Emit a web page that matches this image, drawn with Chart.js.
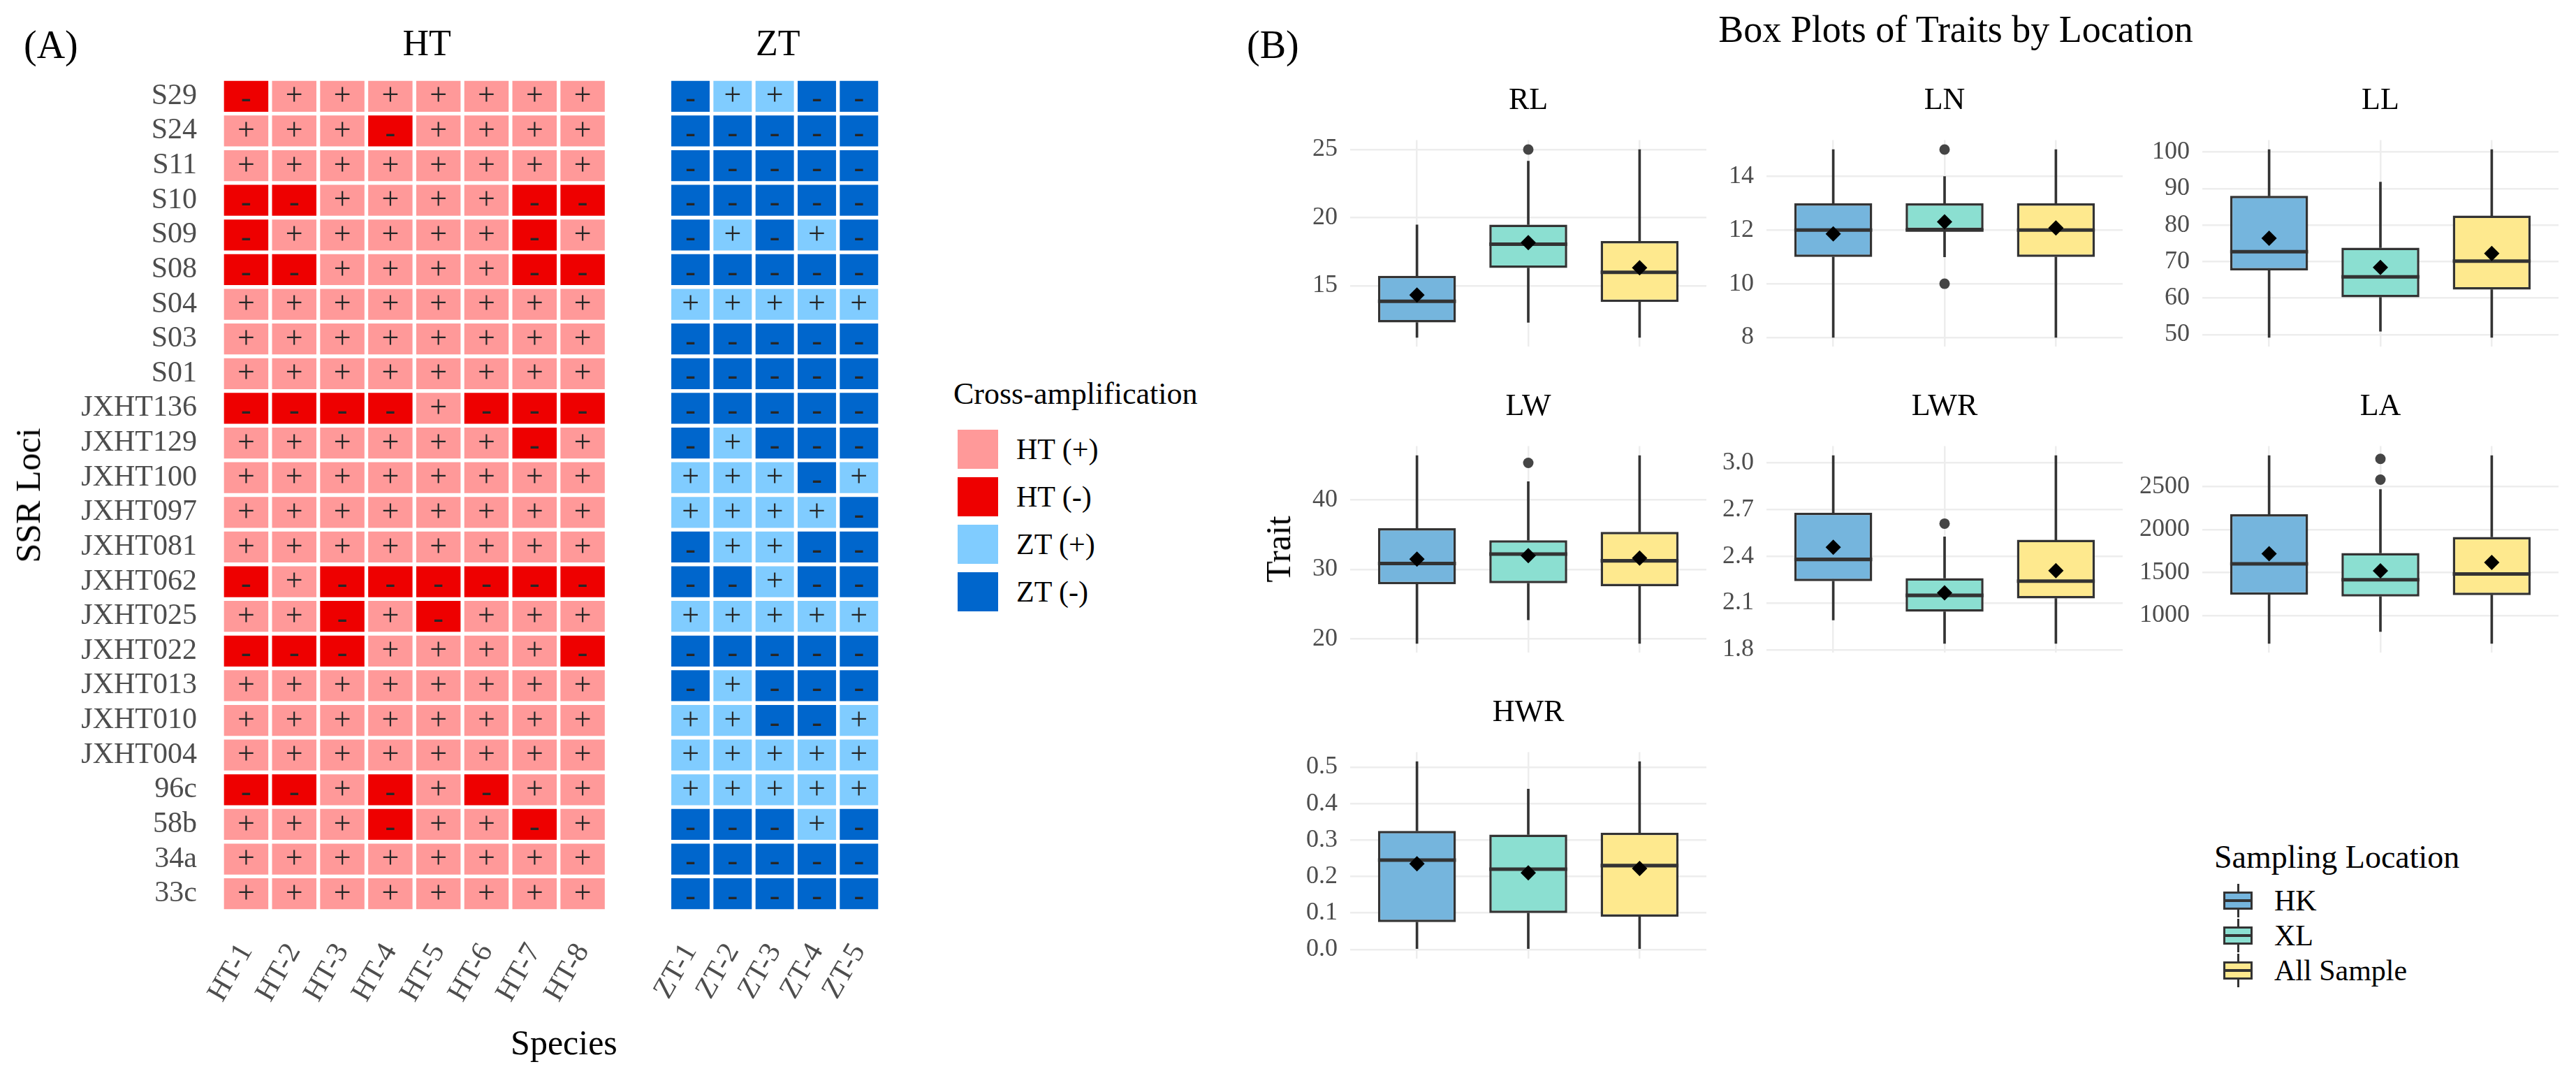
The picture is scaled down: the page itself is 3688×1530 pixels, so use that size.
<!DOCTYPE html>
<html><head><meta charset="utf-8">
<script src="https://cdn.jsdelivr.net/npm/chart.js@4.4.1/dist/chart.umd.min.js"></script>
<style>
html,body{margin:0;padding:0;background:#fff;}
#wrap{position:relative;width:3688px;height:1530px;overflow:hidden;font-family:"Liberation Serif","Times New Roman",serif;color:#000;background:#fff;}
.t{position:absolute;white-space:nowrap;line-height:1;}
canvas{position:absolute;}
.key{position:absolute;}
</style></head><body><div id="wrap"></div>
<script>
// ---------------- DATA ----------------
const loci = ['S29','S24','S11','S10','S09','S08','S04','S03','S01','JXHT136','JXHT129','JXHT100','JXHT097','JXHT081','JXHT062','JXHT025','JXHT022','JXHT013','JXHT010','JXHT004','96c','58b','34a','33c'];
const htSpecies = ['HT-1','HT-2','HT-3','HT-4','HT-5','HT-6','HT-7','HT-8'];
const ztSpecies = ['ZT-1','ZT-2','ZT-3','ZT-4','ZT-5'];
// one string per locus, one character per species (+ amplified, - not amplified)
const htCalls = ['-+++++++','+++-++++','++++++++','--++++--','-+++++-+','--++++--','++++++++','++++++++','++++++++','----+---','++++++-+','++++++++','++++++++','++++++++','-+------','++-+-+++','---++++-','++++++++','++++++++','++++++++','--+-+-++','+++-++-+','++++++++','++++++++'];
const ztCalls = ['-++--','-----','-----','-----','-+-+-','-----','+++++','-----','-----','-----','-+---','+++-+','++++-','-++--','--+--','+++++','-----','-+---','++--+','+++++','+++++','---+-','-----','-----'];
const ampLegend = ['HT (+)','HT (-)','ZT (+)','ZT (-)'];

const traits = ['RL','LN','LL','LW','LWR','LA','HWR'];
const locations = ['HK','XL','All Sample'];
// per trait: [HK, XL, All Sample]
const lowerWhisker = [[11.2,12.3,11.2],[8,11,8],[49.2,50.9,49.2],[19.35,22.75,19.35],[1.99,1.84,1.84],[674,812,674],[0,0,0]];
const q1 =           [[12.3,16.3,13.8],[11,12,11],[67.6,60.2,62.3],[27.86,28.0,27.57],[2.24,2.044,2.129],[1241,1220,1237],[0.075,0.10,0.09]];
const median =       [[13.85,18.05,15.98],[12,12,12],[72.7,65.8,70.1],[30.84,32.2,31.23],[2.38,2.149,2.24],[1600,1416,1482],[0.245,0.22,0.23]];
const q3 =           [[15.73,19.49,18.28],[13,13,13],[88.0,73.8,82.6],[35.9,34.18,35.38],[2.68,2.26,2.506],[2178,1726,1914],[0.325,0.315,0.32]];
const upperWhisker = [[19.47,24.15,25],[15,14,15],[100.7,91.8,100.7],[46.35,42.6,46.35],[3.047,2.525,3.047],[2860,2466,2860],[0.515,0.44,0.515]];
const means =        [[14.32,18.17,16.32],[11.86,12.31,12.08],[76.4,68.4,72.2],[31.46,31.97,31.63],[2.458,2.165,2.308],[1719,1519,1616],[0.235,0.21,0.222]];
const outliers =     [[[],[25],[]],[[],[15,10],[]],[[],[],[]],[[],[45.3],[]],[[],[2.61],[]],[[],[2822,2580],[]],[[],[],[]]];
const yTicks = [[15,20,25],[8,10,12,14],[50,60,70,80,90,100],[20,30,40],[1.8,2.1,2.4,2.7,3.0],[1000,1500,2000,2500],[0,0.1,0.2,0.3,0.4,0.5]];
const yDecimals = [0,0,0,0,1,0,1];

// ---------------- STYLE ----------------
const FONT = '"Liberation Serif", "Times New Roman", serif';
const TICK = '#4D4D4D';
const ampColors = {HTp:'#FF9999', HTn:'#EE0000', ZTp:'#80CCFF', ZTn:'#0066CC'};
const boxColors = ['#75B5DD','#8BDFD1','#FEE98E'];
Chart.defaults.font.family = FONT;
Chart.defaults.animation = false;

const wrap = document.getElementById('wrap');
function mkCanvas(left, top, w, h){
  const c = document.createElement('canvas');
  c.width = Math.round(w); c.height = Math.round(h);
  c.style.left = Math.round(left)+'px'; c.style.top = Math.round(top)+'px';
  c.style.width = Math.round(w)+'px'; c.style.height = Math.round(h)+'px';
  wrap.appendChild(c);
  return c;
}
function txt(s, x, y, size, o={}){
  const d = document.createElement('div');
  d.className='t'; d.textContent = s;
  d.style.fontSize = size+'px';
  d.style.left = x+'px'; d.style.top = y+'px';
  d.style.color = o.color || '#000';
  let tr = o.anchor==='left' ? 'translate(0,-50%)' : 'translate(-50%,-50%)';
  if (o.rot) tr += ' rotate('+o.rot+'deg)';
  d.style.transform = tr;
  wrap.appendChild(d);
  return d;
}

// ---------------- HEATMAP ----------------
const HM = {top:113, bottom:1304, htLeft:318, cell:73.3, gap:26, canvasH:1500};
function heatmap(species, calls, group, left, showY){
  const right = left + species.length*HM.cell;
  const cLeft = showY ? 0 : Math.round(left) - 10;
  const padL = showY ? 0 : left - cLeft;
  const c = mkCanvas(cLeft, 0, right + 4 - cLeft, HM.canvasH);
  const datasets = species.map((sp, j) => ({
    label: sp,
    data: loci.map(() => 1),
    backgroundColor: loci.map((l, i) => calls[i][j] === '+' ? ampColors[group+'p'] : ampColors[group+'n']),
    borderColor: '#FFFFFF',
    borderWidth: 3,
    borderSkipped: false,
    barPercentage: 1,
    categoryPercentage: 1
  }));
  const signs = {
    id: 'signs',
    afterDatasetsDraw(chart){
      const ctx = chart.ctx;
      ctx.save();
      ctx.font = '44px ' + FONT;
      ctx.fillStyle = '#262626';
      ctx.textAlign = 'center';
      ctx.textBaseline = 'middle';
      chart.data.datasets.forEach((ds, j) => {
        chart.getDatasetMeta(j).data.forEach((el, i) => {
          const p = el.getProps(['x','y','base'], true);
          const s = calls[i][j];
          ctx.fillText(s, (p.x + p.base)/2, p.y + (s === '-' ? 5 : 1));
        });
      });
      ctx.restore();
    }
  };
  new Chart(c, {
    type: 'bar',
    data: { labels: loci, datasets },
    plugins: [signs],
    options: {
      indexAxis: 'y', responsive: false, devicePixelRatio: 1, animation: false,
      layout: { padding: { top: HM.top, right: 4, bottom: 0, left: padL } },
      plugins: { legend: {display:false}, tooltip: {enabled:false} },
      scales: {
        x: {
          type: 'linear', stacked: true, min: 0, max: species.length,
          grid: {display:false}, border: {display:false},
          afterBuildTicks: (s) => { s.ticks = species.map((sp, i) => ({value: i + 0.5})); },
          afterFit: (s) => { s.height = HM.canvasH - HM.bottom; },
          ticks: { autoSkip:false, minRotation:60, maxRotation:60, padding: 30, color: TICK,
                   font: {size: 42, family: FONT}, callback: (v, i) => species[i] }
        },
        y: {
          type: 'category', stacked: true, display: showY,
          grid: {display:false}, border: {display:false},
          afterFit: (s) => { s.width = showY ? left : 0; },
          ticks: { autoSkip:false, padding: 28, color: TICK, font: {size: 42, family: FONT} }
        }
      }
    }
  });
  return right;
}
const htRight = heatmap(htSpecies, htCalls, 'HT', HM.htLeft, true);
const ztLeft = htRight + HM.gap;
const ztRight = heatmap(ztSpecies, ztCalls, 'ZT', ztLeft, false);

txt('(A)', 34, 64, 56, {anchor:'left'});
txt('HT', (HM.htLeft + htRight)/2, 62, 52);
txt('ZT', (ztLeft + ztRight)/2, 62, 52);
txt('SSR Loci', 40, (HM.top + HM.bottom)/2, 50, {rot:-90});
txt('Species', (HM.htLeft + ztRight)/2, 1492, 50);

// legend A
txt('Cross-amplification', 1365, 564, 44, {anchor:'left'});
const ampKeys = [ampColors.HTp, ampColors.HTn, ampColors.ZTp, ampColors.ZTn];
ampLegend.forEach((lab, i) => {
  const top = 615 + i*68;
  const k = document.createElement('div');
  k.className = 'key';
  k.style.cssText += `left:1371px;top:${top}px;width:58px;height:56px;background:${ampKeys[i]};`;
  wrap.appendChild(k);
  txt(lab, 1455, top + 28, 42, {anchor:'left'});
});

// ---------------- BOX PLOTS ----------------
const colLeft = [1933, 2529, 3153];
const rowTop = [173, 611, 1049];
const PW = 510, PH = 351, AXW = 130, PAD = 12;
const panelPos = [[0,0],[0,1],[0,2],[1,0],[1,1],[1,2],[2,0]];

function boxPanel(k){
  const [r, cc] = panelPos[k];
  const left = colLeft[cc], top = rowTop[r];
  const c = mkCanvas(left - AXW, top - PAD, AXW + PW + PAD, PH + 2*PAD);
  const allOut = outliers[k].flat();
  const lo = Math.min(...lowerWhisker[k], ...allOut);
  const hi = Math.max(...upperWhisker[k], ...allOut);
  const ex = (hi - lo) * 0.05;
  const ymin = lo - ex, ymax = hi + ex;
  const d = (ymax - ymin) * 3 / PH;
  const xs = [1, 2, 3];
  const datasets = [
    { type:'line', label:'mean', order:0, showLine:false, pointStyle:'rectRot', pointRadius:11,
      backgroundColor:'#000', borderColor:'#000', borderWidth:0,
      data: xs.map((x,i) => ({x, y: means[k][i]})) },
    { type:'line', label:'outlier', order:1, showLine:false, pointStyle:'circle', pointRadius:7.5,
      backgroundColor:'#454545', borderColor:'#454545', borderWidth:0,
      data: outliers[k].flatMap((arr, i) => arr.map(v => ({x: xs[i], y: v}))) },
    { type:'bar', label:'median', order:2, grouped:false, barPercentage:0.7, categoryPercentage:1,
      backgroundColor:'#333333', borderWidth:0,
      data: xs.map((x,i) => ({x, y:[median[k][i]-d, median[k][i]+d]})) },
    { type:'bar', label:'box', order:3, grouped:false, barPercentage:0.7, categoryPercentage:1,
      backgroundColor: boxColors, borderColor:'#333333', borderWidth:3.5, borderSkipped:false,
      data: xs.map((x,i) => ({x, y:[q1[k][i], q3[k][i]]})) },
    { type:'bar', label:'whiskerLow', order:4, grouped:false, barThickness:3,
      backgroundColor:'#333333', borderWidth:0,
      data: xs.map((x,i) => ({x, y:[lowerWhisker[k][i], q1[k][i]]})) },
    { type:'bar', label:'whiskerHigh', order:4, grouped:false, barThickness:3,
      backgroundColor:'#333333', borderWidth:0,
      data: xs.map((x,i) => ({x, y:[q3[k][i], upperWhisker[k][i]]})) }
  ];
  new Chart(c, {
    type: 'bar',
    data: { datasets },
    options: {
      responsive:false, devicePixelRatio:1, animation:false,
      layout: { padding: { top: PAD, right: PAD, bottom: PAD, left: 0 } },
      plugins: { legend:{display:false}, tooltip:{enabled:false} },
      scales: {
        x: { type:'linear', min:0.4, max:3.6, offset:false,
             grid:{ color:'#EDEDED', lineWidth:2.5, drawTicks:false, offset:false }, border:{display:false},
             afterBuildTicks: (s) => { s.ticks = xs.map(v => ({value:v})); },
             afterFit: (s) => { s.height = 0; },
             ticks:{ display:false } },
        y: { type:'linear', min:ymin, max:ymax, beginAtZero:false,
             grid:{ color:'#EDEDED', lineWidth:2.5, drawTicks:false }, border:{display:false},
             afterBuildTicks: (s) => { s.ticks = yTicks[k].map(v => ({value:v})); },
             afterFit: (s) => { s.width = AXW; },
             ticks:{ padding:18, color:TICK, font:{size:36, family:FONT},
                     callback: (v) => Number(v).toFixed(yDecimals[k]) } }
      }
    }
  });
  txt(traits[k], left + PW/2, top - 31, 44);
}
traits.forEach((t, k) => boxPanel(k));

txt('(B)', 1785, 64, 56, {anchor:'left'});
txt('Box Plots of Traits by Location', 2800, 42, 54);
txt('Trait', 1830, 786, 50, {rot:-90});

// legend B
txt('Sampling Location', 3170, 1227, 46, {anchor:'left'});
locations.forEach((lab, i) => {
  const cy = 1289 + i*50;
  const kx = 3180, kw = 48, kh = 48;
  const whisk = document.createElement('div');
  whisk.className='key';
  whisk.style.cssText += `left:${kx + kw/2 - 1.5}px;top:${cy - kh/2}px;width:3px;height:${kh}px;background:#333;`;
  wrap.appendChild(whisk);
  const box = document.createElement('div');
  box.className='key';
  box.style.cssText += `left:${kx+3}px;top:${cy - 13}px;width:${kw-6}px;height:26px;background:${boxColors[i]};border:3px solid #333;box-sizing:border-box;`;
  wrap.appendChild(box);
  const med = document.createElement('div');
  med.className='key';
  med.style.cssText += `left:${kx+3}px;top:${cy - 2}px;width:${kw-6}px;height:4px;background:#333;`;
  wrap.appendChild(med);
  txt(lab, 3256, cy, 42, {anchor:'left'});
});
</script></body></html>
